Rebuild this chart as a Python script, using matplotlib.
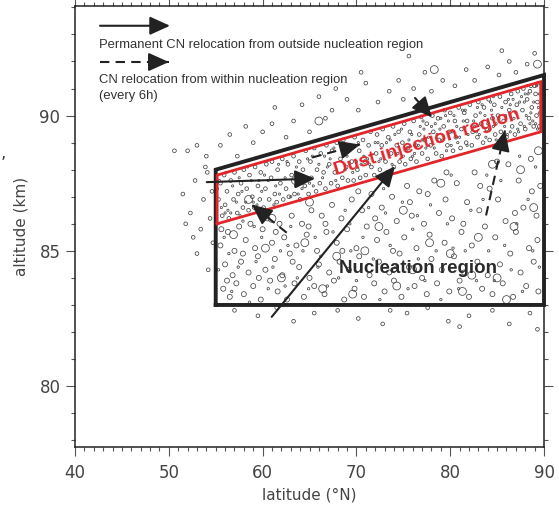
import numpy as np
import matplotlib.pyplot as plt
from matplotlib.patches import FancyArrowPatch
from matplotlib.ticker import MultipleLocator

# CN particle positions (latitude degN, altitude km), grouped by marker size
dust_rings = [
    (55.3, 86.9), (55.5, 87.5), (55.7, 86.3), (55.9, 87.8), (56.0, 86.7), (56.2, 87.2), (56.4, 86.2),
    (56.6, 87.6), (56.9, 86.9), (57.0, 87.9), (57.3, 86.4), (57.4, 87.1), (57.7, 87.5), (57.9, 86.6),
    (58.0, 88.0), (58.3, 87.3), (58.5, 86.5), (58.6, 87.8), (58.9, 87.0), (59.1, 86.6), (59.2, 88.1),
    (59.5, 87.4), (59.7, 86.9), (59.8, 87.9), (60.1, 86.6), (60.3, 87.3), (60.4, 88.2), (60.7, 86.9),
    (60.9, 87.7), (61.0, 88.3), (61.3, 87.1), (61.5, 86.8), (61.6, 88.0), (61.9, 87.5), (62.1, 88.4),
    (62.2, 86.9), (62.5, 87.3), (62.7, 88.2), (62.8, 87.0), (63.1, 87.8), (63.3, 88.5), (63.4, 87.1),
    (63.7, 87.5), (63.9, 88.3), (64.0, 86.9), (64.3, 88.0), (64.5, 87.4), (64.6, 88.7), (64.9, 87.1),
    (65.1, 88.3), (65.2, 87.7), (65.5, 88.8), (65.7, 87.2), (65.8, 88.0), (66.1, 87.5), (66.2, 88.6),
    (66.5, 87.9), (66.7, 87.3), (66.8, 88.9), (67.1, 88.2), (67.3, 87.5), (67.4, 88.7), (67.7, 87.9),
    (67.9, 89.0), (68.0, 87.4), (68.3, 88.4), (68.5, 87.7), (68.6, 89.1), (68.9, 88.1), (69.1, 87.6),
    (69.2, 88.9), (69.5, 88.3), (69.7, 87.6), (69.8, 89.2), (70.1, 88.0), (70.3, 88.7), (70.4, 87.7),
    (70.7, 89.1), (70.9, 88.3), (71.0, 87.8), (71.3, 88.9), (71.5, 89.4), (71.6, 88.1), (71.9, 87.8),
    (72.1, 88.6), (72.2, 89.3), (72.5, 88.0), (72.7, 88.9), (72.8, 89.5), (73.1, 88.3), (73.3, 87.9),
    (73.4, 89.2), (73.7, 88.6), (73.9, 89.6), (74.0, 88.1), (74.3, 88.9), (74.5, 89.4), (74.6, 88.3),
    (74.9, 89.0), (75.1, 89.7), (75.2, 88.2), (75.5, 88.8), (75.7, 89.4), (75.8, 88.4), (76.1, 89.8),
    (76.3, 88.9), (76.4, 88.3), (76.7, 89.3), (76.9, 89.95), (77.0, 88.6), (77.3, 89.1), (77.5, 89.7),
    (77.6, 88.4), (77.9, 88.9), (78.1, 90.0), (78.2, 89.4), (78.5, 88.6), (78.7, 89.9), (78.8, 89.1),
    (79.1, 88.5), (79.3, 89.6), (79.4, 90.2), (79.7, 88.9), (79.9, 89.4), (80.0, 90.1), (80.3, 88.7),
    (80.5, 89.8), (80.6, 89.2), (80.9, 90.3), (81.1, 88.8), (81.2, 89.5), (81.5, 90.1), (81.7, 89.0),
    (81.8, 89.8), (82.1, 90.4), (82.3, 88.9), (82.4, 89.4), (82.7, 90.0), (82.9, 89.2), (83.0, 90.5),
    (83.3, 89.7), (83.5, 89.0), (83.6, 90.3), (83.9, 89.5), (84.1, 90.6), (84.2, 89.1), (84.5, 89.9),
    (84.7, 90.4), (84.8, 89.3), (85.1, 90.0), (85.3, 90.7), (85.4, 89.4), (85.7, 89.8), (85.9, 90.5),
    (86.0, 89.2), (86.3, 90.2), (86.5, 90.8), (86.6, 89.6), (86.9, 89.3), (87.1, 90.4), (87.2, 90.9),
    (87.5, 89.7), (87.7, 90.2), (87.8, 91.0), (88.0, 89.5), (88.2, 90.6), (88.4, 89.9), (88.6, 91.1),
    (88.7, 90.3), (88.9, 89.6), (89.1, 90.8), (89.2, 90.0), (89.4, 91.2), (89.5, 89.6), (89.3, 90.5),
    (88.5, 90.9), (89.0, 91.1),
]

dust_specks = [
    (55.2, 87.3), (55.6, 86.6), (56.1, 87.9), (56.3, 86.5), (56.8, 87.4), (57.2, 86.8), (57.6, 86.3),
    (58.2, 86.8), (58.8, 87.6), (59.4, 86.7), (59.9, 87.2), (60.6, 87.6), (61.2, 86.7), (61.8, 87.1),
    (62.4, 87.7), (63.0, 87.0), (63.6, 88.1), (64.2, 87.3), (64.8, 88.4), (65.4, 87.4), (66.0, 88.2),
    (66.6, 88.5), (67.2, 88.4), (67.8, 87.6), (68.4, 88.9), (69.0, 88.5), (69.6, 87.9), (70.2, 89.0),
    (70.8, 88.5), (71.4, 88.2), (72.0, 89.0), (72.6, 88.4), (73.2, 89.0), (73.8, 88.2), (74.4, 88.6),
    (75.0, 88.5), (75.6, 89.1), (76.2, 88.6), (76.8, 89.6), (77.4, 88.8), (78.0, 89.6), (78.6, 89.3),
    (79.2, 89.1), (79.8, 89.8), (80.2, 89.4), (80.8, 89.0), (81.4, 89.8), (81.9, 89.3), (82.6, 89.6),
    (83.2, 90.1), (83.8, 89.2), (84.4, 90.2), (84.9, 89.7), (85.5, 90.3), (85.8, 89.6), (86.2, 90.6),
    (86.8, 89.9), (87.3, 89.4), (87.6, 90.7), (88.1, 90.0), (88.3, 90.8), (88.8, 89.8), (89.1, 89.7),
    (89.4, 90.3), (89.5, 90.8), (88.6, 90.1), (87.9, 90.5), (87.0, 90.1), (86.4, 89.4), (85.6, 89.2),
    (84.6, 89.6), (83.7, 90.0), (82.8, 89.4), (81.6, 90.2), (80.4, 90.0), (79.6, 88.7), (78.4, 89.7),
    (77.2, 89.5), (76.0, 88.5), (74.8, 89.5), (73.6, 89.1), (72.4, 88.3), (71.2, 88.4), (70.0, 88.3),
    (68.8, 88.0), (67.6, 88.8), (66.4, 87.7), (65.0, 87.5), (63.8, 87.1), (62.6, 88.3), (61.4, 87.4),
    (60.2, 87.8), (59.0, 86.8), (57.8, 87.2), (56.6, 86.4), (55.4, 87.6),
    (75.3, 88.7), (75.9, 89.3), (76.6, 88.9), (77.1, 89.8), (77.7, 89.2), (78.3, 88.8), (78.9, 89.5),
    (79.5, 90.0), (80.1, 88.9), (80.7, 89.6), (81.3, 90.2), (81.8, 88.9), (82.5, 89.8), (83.1, 89.3),
    (83.4, 90.4), (84.0, 89.7), (84.3, 90.5), (84.9, 89.1), (85.2, 89.9), (85.9, 90.0), (86.1, 89.3),
    (86.7, 90.6), (87.2, 89.5), (87.4, 90.5), (87.9, 89.6), (88.2, 91.1), (88.5, 89.7), (88.9, 90.5),
    (89.2, 91.1), (89.5, 90.1), (89.3, 89.5), (88.0, 90.8), (86.4, 90.4), (84.6, 90.7), (82.9, 90.3),
    (81.0, 89.2), (79.0, 89.9), (77.0, 89.1), (74.1, 89.3), (72.3, 89.0), (70.5, 88.2), (68.7, 88.6),
    (66.9, 88.1), (65.3, 88.5), (63.5, 87.4), (61.7, 88.2), (59.6, 87.6), (57.5, 87.7), (56.0, 86.4),
    (58.4, 88.1),
]

nucl_rings = [
    (55.5, 85.2), (55.8, 83.6), (56.0, 84.5), (56.3, 85.7), (56.5, 83.3), (56.8, 84.1), (57.0, 85.0),
    (57.2, 83.8), (57.5, 85.9), (57.7, 84.6), (58.0, 83.4), (58.2, 85.4), (58.5, 84.2), (58.7, 86.0),
    (59.0, 83.7), (59.2, 85.1), (59.5, 84.8), (59.8, 83.2), (60.0, 85.8), (60.3, 84.3), (60.5, 86.2),
    (60.8, 83.9), (61.0, 85.3), (61.3, 84.7), (61.6, 83.5), (61.8, 86.0), (62.1, 84.1), (62.3, 85.5),
    (62.6, 83.2), (62.9, 84.9), (63.1, 86.3), (63.4, 83.8), (63.6, 85.2), (63.9, 84.4), (64.2, 86.0),
    (64.4, 83.3), (64.7, 85.6), (65.0, 84.0), (65.2, 86.5), (65.5, 83.7), (65.8, 85.0), (66.0, 84.5),
    (66.3, 86.3), (66.6, 83.4), (66.8, 85.7), (67.1, 84.2), (67.4, 86.7), (67.6, 83.9), (67.9, 85.3),
    (68.2, 84.6), (68.4, 86.2), (68.7, 83.2), (69.0, 85.8), (69.2, 84.3), (69.5, 86.9), (69.8, 83.6),
    (70.0, 85.1), (70.3, 84.8), (70.6, 86.5), (70.8, 83.3), (71.1, 85.9), (71.4, 84.1), (71.6, 87.1),
    (71.9, 83.8), (72.2, 85.4), (72.4, 84.6), (72.7, 86.6), (73.0, 83.5), (73.2, 85.7), (73.5, 84.2),
    (73.8, 87.0), (74.0, 83.9), (74.3, 86.1), (74.6, 84.9), (74.8, 83.3), (75.1, 85.5), (75.4, 87.4),
    (75.6, 84.4), (75.9, 86.3), (76.2, 83.7), (76.4, 85.1), (76.7, 87.2), (77.0, 84.0), (77.2, 86.0),
    (77.5, 83.4), (77.8, 85.6), (78.0, 84.7), (78.3, 87.6), (78.6, 83.8), (78.8, 86.4), (79.1, 84.3),
    (79.4, 85.3), (79.6, 87.9), (79.9, 83.5), (80.2, 86.2), (80.4, 84.8), (80.7, 87.5), (81.0, 83.9),
    (81.2, 85.7), (81.5, 84.2), (81.8, 86.8), (82.0, 83.3), (82.3, 85.2), (82.6, 87.9), (82.9, 84.6),
    (83.1, 86.5), (83.4, 83.6), (83.7, 85.9), (84.0, 84.1), (84.2, 87.3), (84.5, 83.4), (84.8, 85.5),
    (85.1, 86.9), (85.3, 84.5), (85.6, 83.8), (85.9, 86.1), (86.2, 88.2), (86.4, 84.9), (86.7, 83.3),
    (87.0, 85.7), (87.3, 87.6), (87.5, 84.2), (87.8, 86.6), (88.1, 83.7), (88.4, 85.1), (88.6, 88.4),
    (88.9, 84.6), (89.2, 86.3), (89.4, 83.5), (89.6, 87.4), (89.3, 85.4), (88.7, 87.2), (86.9, 86.4),
    (85.0, 88.3), (83.2, 87.4), (81.4, 86.0), (79.5, 86.9), (77.6, 87.1), (75.7, 86.8), (73.9, 85.0),
    (72.0, 86.2), (70.2, 87.2), (68.5, 85.0), (66.7, 86.0), (64.9, 85.9), (63.2, 84.6), (61.4, 85.7),
    (59.6, 84.0), (57.9, 84.9), (56.2, 83.9), (55.6, 85.8),
]

nucl_specks = [
    (55.3, 84.3), (55.9, 85.5), (56.7, 83.5), (57.4, 84.4), (57.9, 86.1), (58.6, 83.1), (59.3, 84.6),
    (59.9, 85.5), (60.6, 83.6), (61.1, 84.4), (61.9, 85.0), (62.4, 83.7), (63.0, 85.9), (63.7, 84.0),
    (64.3, 85.0), (64.9, 83.6), (65.6, 85.5), (66.2, 84.8), (66.9, 83.7), (67.5, 85.7), (68.1, 84.0),
    (68.8, 86.5), (69.4, 85.0), (70.0, 83.9), (70.7, 85.5), (71.3, 86.6), (71.8, 84.7), (72.5, 83.2),
    (73.1, 86.4), (73.6, 85.2), (74.2, 84.4), (74.9, 86.8), (75.5, 83.6), (76.0, 85.8), (76.6, 84.7),
    (77.3, 83.9), (77.9, 86.7), (78.5, 85.0), (79.0, 83.2), (79.7, 86.0), (80.3, 85.1), (80.9, 83.6),
    (81.6, 85.0), (82.2, 86.5), (82.8, 83.9), (83.5, 86.9), (84.1, 85.0), (84.7, 83.9), (85.4, 87.6),
    (85.8, 85.2), (86.5, 84.3), (87.1, 86.0), (87.7, 83.5), (88.3, 86.9), (88.8, 85.0), (89.5, 84.4),
    (89.1, 88.1), (87.4, 88.5), (83.9, 87.8), (80.1, 87.8), (76.5, 86.3), (72.9, 87.3), (69.3, 86.0),
    (65.9, 84.4), (62.7, 85.2), (59.1, 85.9), (56.4, 84.9),
]

outer_rings = [
    # above the injection layer
    (52.0, 88.7), (53.0, 88.9), (54.0, 88.5), (55.5, 88.9), (56.5, 89.3), (57.3, 88.5), (58.2, 89.6),
    (59.0, 89.0), (60.0, 89.4), (61.0, 89.7), (61.3, 90.3), (62.5, 89.2), (63.3, 89.8), (64.2, 90.4),
    (65.0, 89.4), (66.0, 90.7), (66.7, 89.9), (67.4, 90.2), (67.8, 91.0), (69.0, 90.6), (70.2, 90.2),
    (71.0, 91.2), (72.3, 90.5), (73.5, 90.9), (74.5, 91.3), (75.0, 90.6), (76.1, 91.0), (77.3, 91.6),
    (78.0, 90.9), (79.2, 91.3), (80.5, 91.1), (81.7, 91.7), (82.6, 91.3), (84.0, 91.8), (85.2, 91.5),
    (86.3, 92.0), (87.0, 91.6), (88.2, 91.9), (89.0, 92.3), (85.5, 92.4), (75.6, 92.2), (70.5, 91.6),
    # equatorward of the box
    (51.5, 87.1), (52.3, 86.4), (52.8, 87.6), (53.4, 85.8), (53.7, 86.9), (54.1, 87.9), (54.4, 86.2),
    (54.7, 85.3), (53.0, 84.9), (54.2, 84.3), (52.6, 85.5), (51.8, 86.0), (54.6, 87.2), (53.9, 88.1),
    (50.6, 88.7),
    # below the box
    (57.0, 82.8), (59.5, 82.6), (61.5, 82.9), (63.3, 82.4), (65.5, 82.7), (68.0, 82.8), (70.2, 82.5),
    (72.8, 82.3), (75.4, 82.7), (77.6, 82.9), (79.8, 82.4), (82.0, 82.6), (84.5, 82.8), (86.3, 82.3),
    (88.5, 82.7), (89.3, 82.1), (73.6, 82.8), (81.0, 82.2),
]

big_rings = [
    (60.3, 85.1), (62.0, 84.0), (64.5, 85.3), (66.4, 83.6), (67.9, 84.8), (70.9, 85.0), (72.4, 85.9),
    (74.3, 83.7), (76.0, 84.3), (77.8, 85.3), (80.0, 84.9), (81.3, 83.5), (83.0, 85.5), (85.0, 84.0),
    (86.8, 85.9), (88.9, 86.6), (89.4, 88.7), (87.5, 88.0), (84.5, 88.2), (79.0, 87.5), (63.5, 87.6),
    (58.5, 86.9), (61.0, 86.2), (75.0, 86.5), (69.6, 83.4), (65.0, 86.8), (56.9, 85.6), (82.3, 84.1),
    (86.0, 83.2), (78.3, 91.7), (66.0, 89.8), (89.3, 91.9),
]

# region outlines
nucl_lat = [55, 90, 90, 55, 55]
nucl_alt = [83, 83, 91.5, 88, 83]
inj_lat = [55.15, 55.15, 89.65, 89.65, 55.15]
inj_alt = [86.0, 87.8, 91.25, 89.4, 86.0]

# relocation arrows, (tail, tip)
solid_arrows = [
    ((42.67, 93.32), (50.13, 93.32)),
    ((54.04, 87.54), (65.59, 87.67)),
    ((60.97, 82.56), (74.12, 88.13)),
    ((76.25, 90.65), (78.06, 89.93)),
]
dashed_arrows = [
    ((42.67, 91.98), (50.0, 91.98)),
    ((65.27, 88.45), (70.38, 88.93)),
    ((62.57, 85.67), (58.84, 86.71)),
    ((83.82, 86.31), (85.84, 89.45)),
]

ring_col = "#454545"
line_col = "#222222"
red = "#e1252b"
head = "-|>,head_length=0.62,head_width=0.28"

fig = plt.figure(figsize=(5.59, 5.09), dpi=100)
ax = fig.add_axes([0.1342, 0.1218, 0.839, 0.8664])

for pts, s in [(dust_specks, 2.5), (nucl_specks, 3), (dust_rings, 7), (outer_rings, 7),
               (nucl_rings, 13), (big_rings, 32)]:
    p = np.array(pts)
    ax.scatter(p[:, 0], p[:, 1], s=s, facecolors="none", edgecolors=ring_col,
               linewidths=0.55, zorder=2)

ax.plot(nucl_lat, nucl_alt, color=line_col, lw=2.8, solid_joinstyle="miter",
        clip_on=False, zorder=3)
ax.plot(inj_lat, inj_alt, color=red, lw=2.0, solid_joinstyle="miter", zorder=4)

for tail, tip in solid_arrows:
    ax.add_patch(FancyArrowPatch(tail, tip, arrowstyle=head, mutation_scale=20, lw=1.5,
                                 color=line_col, shrinkA=0, shrinkB=0, zorder=5))

# dashed shaft, solid head
for tail, tip in dashed_arrows:
    t, e = np.array(tail), np.array(tip)
    ax.plot([t[0], e[0]], [t[1], e[1]], color=line_col, lw=1.5, ls=(0, (4.5, 3)),
            solid_capstyle="butt", zorder=5)
    ax.add_patch(FancyArrowPatch(e - 0.05 * (e - t), e, arrowstyle=head, mutation_scale=20,
                                 lw=1.5, color=line_col, shrinkA=0, shrinkB=0, zorder=5))

legend_kw = dict(family="Liberation Sans", fontsize=9.4, color="#333333", va="center")
ax.text(42.56, 92.62, "Permanent CN relocation from outside nucleation region", **legend_kw)
ax.text(42.56, 91.33, "CN relocation from within nucleation region", **legend_kw)
ax.text(42.56, 90.72, "(every 6h)", **legend_kw)

ax.text(77.5, 89.0, "Dust injection region", family="Liberation Sans", fontweight="bold",
        fontsize=14, color=red, rotation=17, rotation_mode="anchor",
        ha="center", va="center", zorder=6)
ax.text(76.57, 84.35, "Nucleation region", family="Liberation Sans", fontweight="bold",
        fontsize=13.5, color="#2a2a2a", ha="center", va="center", zorder=6)

ax.set_xlim(40, 90)
ax.set_ylim(77.75, 94.05)
ax.set_xticks(range(40, 91, 10))
ax.set_yticks([80, 85, 90])
ax.xaxis.set_minor_locator(MultipleLocator(1))
ax.yaxis.set_minor_locator(MultipleLocator(1))
ax.tick_params(which="both", direction="out", top=True, right=True, width=0.8,
               color="#555555", labelsize=12, labelcolor="#444444")
ax.tick_params(which="major", length=6.5, pad=4)
ax.tick_params(axis="x", which="major", pad=6)
ax.tick_params(which="minor", length=3)
for sp in ax.spines.values():
    sp.set_linewidth(1.1)
    sp.set_color("#222222")

ax.set_xlabel("latitude (°N)", fontsize=11, color="#444444", labelpad=4)
ax.set_ylabel("altitude (km)", fontsize=11, color="#444444", labelpad=8)

fig.text(0.002, 0.69, ",", fontsize=12, color="#444444")

fig.savefig("out.png", dpi=100)
